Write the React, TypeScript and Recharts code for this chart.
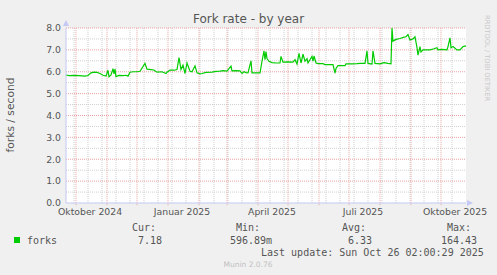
import React from 'react';
import {
  LineChart,
  Line,
  XAxis,
  YAxis,
  CartesianGrid,
  ReferenceLine,
} from 'recharts';

// day offsets from the left edge of the graph (400 days back from Oct 26 2025)
const days = [
  0, 3, 8, 13, 19, 22, 25, 28, 31, 34, 37, 40, 42, 43, 45, 47, 48, 49, 50, 53,
  57, 60, 62, 64, 67, 71, 74, 79, 81, 85, 88, 91, 96, 100, 101, 104, 108, 111, 113, 115,
  117, 119, 121, 124, 126, 129, 131, 134, 136, 140, 146, 150, 154, 157, 161, 165, 166, 170, 174, 176,
  178, 180, 182, 185, 186, 190, 194, 196, 198, 199, 200, 201, 203, 206, 210, 214, 215, 217, 222, 227,
  229, 231, 233, 235, 237, 239, 241, 242, 246, 247, 248, 250, 252, 257, 259, 264, 267, 269, 270, 272,
  279, 280, 286, 291, 294, 299, 301, 302, 306, 307, 309, 314, 318, 322, 325, 326, 327, 330, 334, 338,
  340, 342, 344, 347, 349, 351, 352, 354, 355, 357, 364, 368, 371, 372, 376, 381, 382, 384, 385, 387,
  391, 394, 397, 400,
];

const forks = [
  5.85, 5.82, 5.83, 5.82, 5.8, 5.83, 5.95, 5.98, 5.97, 5.92, 5.84, 5.8, 6.07, 5.77, 5.85, 6.14, 5.9, 6.12, 5.78, 5.83,
  5.82, 5.84, 5.8, 5.98, 6.0, 6.0, 6.02, 6.38, 6.12, 6.1, 6.08, 5.98, 6.0, 5.92, 5.98, 6.07, 6.07, 6.1, 6.65, 6.1,
  6.3, 5.92, 6.4, 6.02, 6.0, 6.27, 5.95, 5.9, 5.92, 5.97, 5.98, 6.02, 6.03, 6.05, 6.03, 6.26, 6.04, 6.05, 6.04, 5.92,
  6.0, 5.96, 5.95, 6.5, 5.95, 5.95, 5.95, 6.48, 6.95, 6.55, 6.92, 6.6, 6.48, 6.42, 6.4, 6.4, 6.7, 6.44, 6.45, 6.44,
  6.55, 6.35, 6.84, 6.4, 6.8, 6.48, 6.6, 6.4, 6.7, 6.48, 6.72, 6.4, 6.37, 6.37, 6.33, 6.33, 6.33, 5.94, 6.15, 6.28,
  6.28, 6.36, 6.36, 6.37, 6.38, 6.38, 6.95, 6.38, 6.35, 6.95, 6.38, 6.36, 6.42, 6.38, 6.36, 8.0, 7.4, 7.48, 7.52, 7.58,
  7.6, 7.7, 7.45, 7.5, 7.6, 7.1, 6.76, 7.15, 6.9, 7.0, 7.0, 7.05, 7.1, 7.0, 7.02, 7.0, 7.15, 7.55, 7.1, 7.15,
  7.0, 7.0, 7.15, 7.18,
];

const monthStartDays = [10, 41, 71, 102, 133, 161, 192, 222, 253, 283, 314, 345, 375];
const minorDays = [
  8, 22, 36, 50, 64, 78, 92, 106, 120, 134, 148, 162, 176, 190, 204, 218, 232, 246, 260, 274,
  288, 302, 316, 330, 344, 358, 372, 386,
];
const labelDays = [24, 116, 206, 297, 389];
const labelTexts = ['Oktober 2024', 'Januar 2025', 'April 2025', 'Juli 2025', 'Oktober 2025'];
const yTicks = [0, 1, 2, 3, 4, 5, 6, 7, 8];
const yMajor = [1, 2, 3, 4, 5, 6, 7, 8];
const yMinor = [0.5, 1.5, 2.5, 3.5, 4.5, 5.5, 6.5, 7.5];

const legendHeaders = ['Cur:', 'Min:', 'Avg:', 'Max:'];
const legendValues = ['7.18', '596.89m', '6.33', '164.43'];

const data = days.map((d, i) => ({ day: d, forks: forks[i] }));

const MAJOR = '#e9a3a3';
const MINOR = '#cfcfcf';
const AXIS = '#c4c8f4';
const TEXT = '#555555';
const SANS = '"DejaVu Sans", sans-serif';
const MONO = '"DejaVu Sans Mono", monospace';

const W = 497;
const H = 275;

const App: React.FC = () => {
  const headerX = [132, 236, 342, 447];
  const valueX = [138, 230, 348, 441];
  return (
    <div style={{ position: 'absolute', left: 0, top: 0, width: W, height: H, background: '#f0f0f0' }}>
      <LineChart
        width={W}
        height={H}
        data={data}
        margin={{ top: 28, right: 31, left: 0, bottom: 52 }}
      >
        <CartesianGrid fill="#ffffff" stroke="none" horizontal={false} vertical={false} />
        {yMinor.map((v) => (
          <ReferenceLine key={'hm' + v} y={v} stroke={MINOR} strokeDasharray="1 1" />
        ))}
        {minorDays.map((d) => (
          <ReferenceLine key={'vm' + d} x={d} stroke={MINOR} strokeDasharray="1 1" />
        ))}
        {yMajor.map((v) => (
          <ReferenceLine key={'hM' + v} y={v} stroke={MAJOR} strokeDasharray="1 1" />
        ))}
        {monthStartDays.map((d) => (
          <ReferenceLine
            key={'vM' + d}
            segment={[{ x: d, y: -0.1 }, { x: d, y: 8 }]}
            ifOverflow="visible"
            stroke={MAJOR}
            strokeDasharray="1 1"
          />
        ))}
        <XAxis
          dataKey="day"
          type="number"
          domain={[0, 400]}
          ticks={labelDays}
          tickFormatter={(v: number) => labelTexts[labelDays.indexOf(v)] ?? ''}
          interval={0}
          height={20}
          tickLine={false}
          tickSize={0}
          tickMargin={5}
          axisLine={{ stroke: AXIS }}
          tick={{ fill: TEXT, fontSize: 9.3, fontFamily: SANS }}
        />
        <YAxis
          type="number"
          domain={[0, 8]}
          ticks={yTicks}
          interval={0}
          width={66}
          tickLine={false}
          tickSize={0}
          tickMargin={5}
          axisLine={{ stroke: AXIS }}
          tickFormatter={(v: number) => v.toFixed(1)}
          tick={{ fill: TEXT, fontSize: 9.3, fontFamily: SANS }}
        />
        <Line
          type="linear"
          dataKey="forks"
          stroke="#00cc00"
          strokeWidth={1.2}
          dot={false}
          isAnimationActive={false}
        />
      </LineChart>

      <svg
        width={W}
        height={H}
        style={{ position: 'absolute', left: 0, top: 0, pointerEvents: 'none' }}
      >
        <text x={248.5} y={23} textAnchor="middle" fontFamily={SANS} fontSize={12} fill={TEXT}>
          Fork rate - by year
        </text>
        <text
          transform="translate(14,115) rotate(-90)"
          textAnchor="middle"
          fontFamily={SANS}
          fontSize={10.7}
          fill={TEXT}
        >
          forks / second
        </text>
        <text
          transform="translate(485,15) rotate(90)"
          fontFamily={SANS}
          fontSize={6.7}
          fill="#c8c8c8"
        >
          RRDTOOL / TOBI OETIKER
        </text>
        {/* axis arrows */}
        <polygon points="63,26 69,26 66,20" fill={AXIS} />
        <polygon points="467,200 467,206 473,203" fill={AXIS} />

        <rect x={14} y={237} width={6} height={6} fill="#00cc00" />
        <text x={27} y={244} fontFamily={MONO} fontSize={10} fill={TEXT}>
          forks
        </text>
        {legendHeaders.map((h, i) => (
          <text key={h} x={headerX[i]} y={231} fontFamily={MONO} fontSize={10} fill={TEXT}>
            {h}
          </text>
        ))}
        {legendValues.map((v, i) => (
          <text key={v} x={valueX[i]} y={244} fontFamily={MONO} fontSize={10} fill={TEXT}>
            {v}
          </text>
        ))}
        <text x={261} y={256} fontFamily={MONO} fontSize={10} fill={TEXT}>
          Last update: Sun Oct 26 02:00:29 2025
        </text>
        <text x={248} y={267} textAnchor="middle" fontFamily={SANS} fontSize={7.5} fill="#c0c0c0">
          Munin 2.0.76
        </text>
      </svg>
    </div>
  );
};

export default App;
